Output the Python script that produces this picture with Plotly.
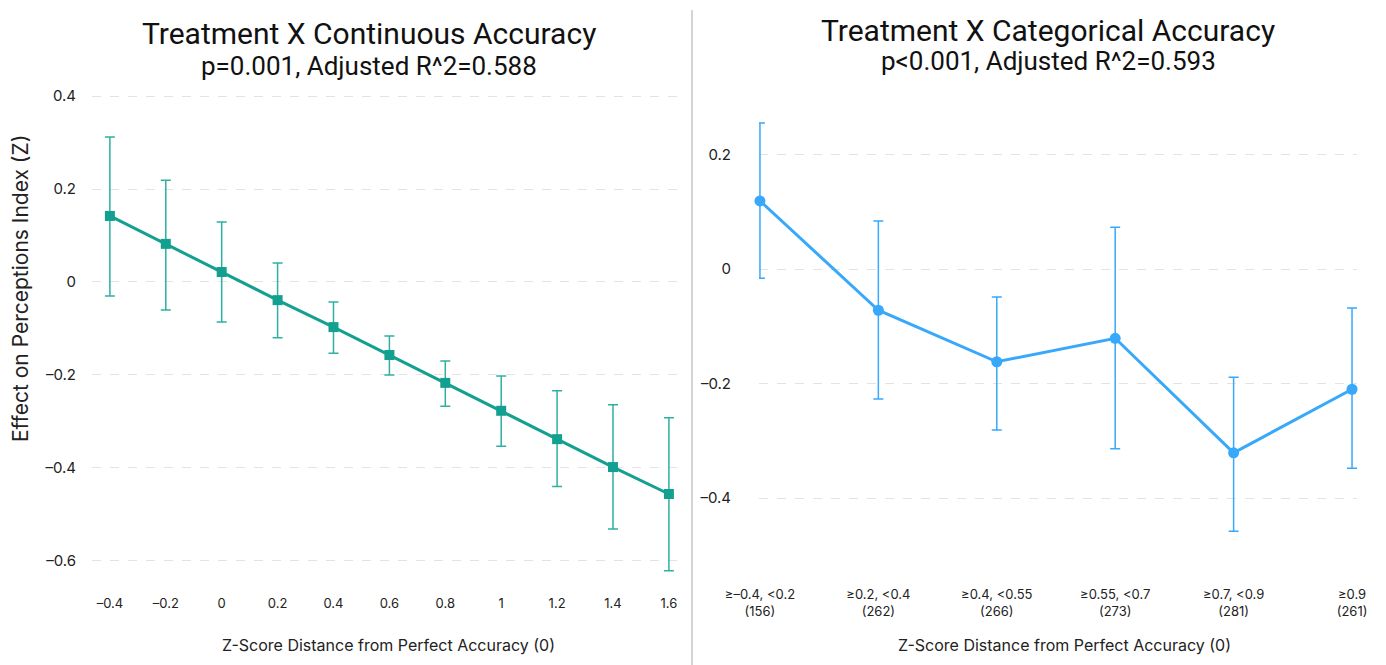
import plotly.graph_objects as go

W, H = 1386, 665

# ---- data: left panel (continuous) ----
cont_x = [-0.4, -0.2, 0, 0.2, 0.4, 0.6, 0.8, 1.0, 1.2, 1.4, 1.6]
cont_y = [0.142, 0.082, 0.0215, -0.039, -0.097, -0.157, -0.217, -0.277, -0.338, -0.398, -0.456]
cont_hi = [0.312, 0.219, 0.129, 0.041, -0.043, -0.116, -0.170, -0.202, -0.234, -0.264, -0.292]
cont_lo = [-0.030, -0.060, -0.086, -0.120, -0.153, -0.200, -0.267, -0.353, -0.440, -0.531, -0.621]
cont_xticks = [-0.4, -0.2, 0, 0.2, 0.4, 0.6, 0.8, 1, 1.2, 1.4, 1.6]
cont_xticktext = ["–0.4", "–0.2", "0", "0.2", "0.4", "0.6", "0.8", "1", "1.2", "1.4", "1.6"]
cont_yticks = [0.4, 0.2, 0, -0.2, -0.4, -0.6]
cont_yticktext = ["0.4", "0.2", "0", "–0.2", "–0.4", "–0.6"]

# ---- data: right panel (categorical) ----
cat_labels = ["≥–0.4, <0.2<br>(156)", "≥0.2, <0.4<br>(262)", "≥0.4, <0.55<br>(266)",
              "≥0.55, <0.7<br>(273)", "≥0.7, <0.9<br>(281)", "≥0.9<br>(261)"]
cat_y = [0.119, -0.072, -0.162, -0.121, -0.321, -0.210]
cat_hi = [0.255, 0.084, -0.049, 0.073, -0.189, -0.068]
cat_lo = [-0.016, -0.227, -0.281, -0.314, -0.458, -0.348]
cat_yticks = [0.2, 0, -0.2, -0.4]
cat_yticktext = ["0.2", "0", "–0.2", "–0.4"]

TEAL = "#13a090"
TEAL_EB = "#2fb0a2"
BLUE = "#38a8fb"
TXT = "#222222"
GRID = "#e3e3e3"
FONT = "Inter, Roboto, sans-serif"
TFONT = "Roboto, sans-serif"

def px_x(p):
    return p / W

def px_y(p):
    return 1 - p / H

cat_idx = list(range(len(cat_labels)))

fig = go.Figure()

fig.add_trace(go.Scatter(
    x=cont_x, y=cont_y, mode="lines+markers",
    line=dict(color=TEAL, width=3),
    marker=dict(symbol="square", size=10, color=TEAL),
    error_y=dict(type="data", symmetric=False,
                 array=[h - y for h, y in zip(cont_hi, cont_y)],
                 arrayminus=[y - l for l, y in zip(cont_lo, cont_y)],
                 color=TEAL_EB, thickness=1.5, width=5),
    cliponaxis=False, showlegend=False, xaxis="x", yaxis="y"))

fig.add_trace(go.Scatter(
    x=cat_idx, y=cat_y, mode="lines+markers",
    line=dict(color=BLUE, width=3),
    marker=dict(symbol="circle", size=11, color=BLUE),
    error_y=dict(type="data", symmetric=False,
                 array=[h - y for h, y in zip(cat_hi, cat_y)],
                 arrayminus=[y - l for l, y in zip(cat_lo, cat_y)],
                 color=BLUE, thickness=1.5, width=5),
    cliponaxis=False, showlegend=False, xaxis="x2", yaxis="y2"))

plot_top, plot_bot = 90, 580
ydom = [px_y(plot_bot), px_y(plot_top)]

fig.update_layout(
    width=W, height=H,
    margin=dict(l=0, r=0, t=0, b=0),
    paper_bgcolor="white", plot_bgcolor="white",
    font=dict(family=FONT, color=TXT),
    xaxis=dict(domain=[px_x(92), px_x(684)], range=[-0.464, 1.654],
               tickvals=cont_xticks, ticktext=cont_xticktext,
               showgrid=False, zeroline=False, showline=False,
               ticks="outside", ticklen=11, tickcolor="rgba(0,0,0,0)",
               tickfont=dict(size=13, color=TXT), automargin=False),
    yaxis=dict(domain=ydom, range=[-0.6409, 0.4129],
               tickvals=cont_yticks, ticktext=cont_yticktext,
               showgrid=True, gridcolor=GRID, griddash="dash", gridwidth=1,
               zeroline=False, showline=False,
               ticks="outside", ticklen=12, tickcolor="rgba(0,0,0,0)",
               tickfont=dict(size=15, color=TXT), automargin=False),
    xaxis2=dict(domain=[px_x(759), px_x(1357)], range=[-0.008, 5.042],
                tickvals=cat_idx, ticktext=cat_labels,
                showgrid=False, zeroline=False, showline=False,
                ticks="outside", ticklen=2, tickcolor="rgba(0,0,0,0)",
                tickfont=dict(size=13, color=TXT), automargin=False),
    yaxis2=dict(domain=ydom, range=[-0.5432, 0.3127], anchor="x2",
                tickvals=cat_yticks, ticktext=cat_yticktext,
                showgrid=True, gridcolor=GRID, griddash="dash", gridwidth=1,
                zeroline=False, showline=False,
                ticks="outside", ticklen=24, tickcolor="rgba(0,0,0,0)",
                tickfont=dict(size=15, color=TXT), automargin=False),
)
fig.update_layout(xaxis2=dict(anchor="y2"))

annots = [
    dict(text="Treatment X Continuous Accuracy", x=px_x(369), y=px_y(34), font=dict(size=30, family=TFONT, color="#111")),
    dict(text="p=0.001, Adjusted R^2=0.588", x=px_x(369), y=px_y(66), font=dict(size=26, family=TFONT, color="#111")),
    dict(text="Treatment X Categorical Accuracy", x=px_x(1048), y=px_y(31), font=dict(size=30, family=TFONT, color="#111")),
    dict(text="p<0.001, Adjusted R^2=0.593", x=px_x(1048), y=px_y(61), font=dict(size=26, family=TFONT, color="#111")),
    dict(text="Z-Score Distance from Perfect Accuracy (0)", x=px_x(388), y=px_y(645), font=dict(size=16, color=TXT)),
    dict(text="Z-Score Distance from Perfect Accuracy (0)", x=px_x(1064), y=px_y(645), font=dict(size=16, color=TXT)),
    dict(text="Effect on Perceptions Index (Z)", x=px_x(20), y=px_y(289), textangle=-90, font=dict(size=21, color=TXT)),
]
for a in annots:
    a.update(xref="paper", yref="paper", showarrow=False, xanchor="center", yanchor="middle")
fig.update_layout(annotations=annots)

fig.add_shape(type="line", xref="paper", yref="paper",
              x0=px_x(692), x1=px_x(692), y0=0, y1=px_y(10),
              line=dict(color="#d4d4d4", width=2))

fig.write_html("out.html")
